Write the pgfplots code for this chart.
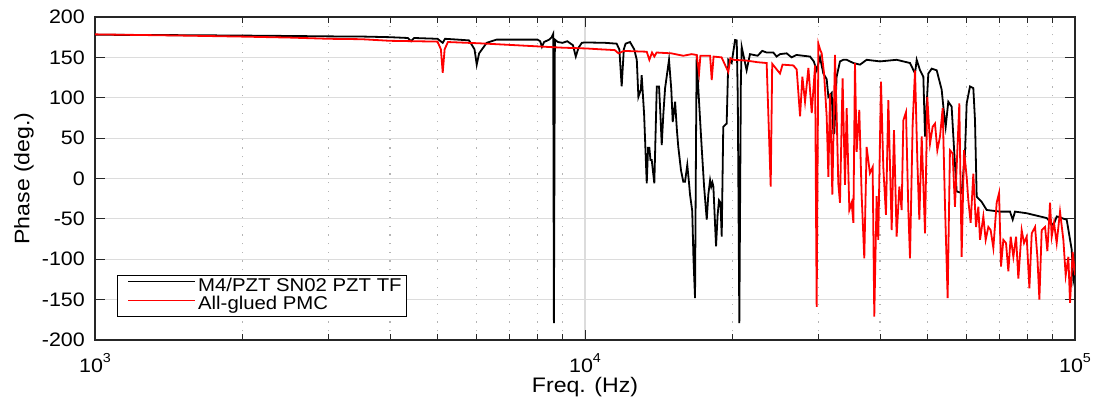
\documentclass[border=0pt]{standalone}
\usepackage{fontspec}
\setmainfont{Liberation Sans}[FakeStretch=1.1]
\usepackage{pgfplots}
\pgfplotsset{compat=1.18}
\usepackage{pgfplotstable}

\pgfplotstableread{
f deg
1000 178
1500 177.5
2000 177
2500 176.5
3000 176
3500 175.8
4000 175
4350 174
4416 170
4480 174
5000 173
5124 168
5180 173
5500 172
5800 171
5950 160
6012 141
6080 155
6300 168
6600 172
7000 172
7500 172
8000 172
8100 170
8167 163
8250 169
8450 172
8550 175
8610 179
8640 -179
8680 172
8800 169
9000 168
9200 170
9450 165
9575 151
9700 162
9850 168
10000 168.5
11000 168
11600 167
11750 160
11880 114
12000 160
12100 167
12355 169
12600 160
12754 147
12850 101
13000 110
13050 128
13200 80
13365 -6
13450 38
13530 38
13600 23
13680 23
13850 -6
14010 114
14160 114
14250 80
14340 41.5
14450 80
14570 112
14840 147
15000 110
15100 70
15270 95
15400 60
15500 39.4
15700 10
15870 -4
16000 -4
16170 16.7
16300 -5
16380 -20
16550 -40
16650 -100
16770 -148
16850 50
16900 153
17000 120
17090 95
17300 39
17500 -10
17720 -51
17850 -20
18000 -2
18100 -10
18200 -5
18280 -10
18510 -84
18650 -45
18770 -27
18900 -30
19010 -72
19150 64
19460 68
19610 147
19920 143
20240 171.5
20400 171
20500 100
20650 -179
20800 120
20880 163
21100 150
21370 134
21710 154
22500 152
23000 158
23480 156
24230 156
24600 151
25000 154
25790 155
26400 150
27000 153
28790 151
29300 145
29700 134
30170 150
30650 130
31130 123
31380 101
31870 106
32120 56
32270 56
32620 126
33140 145
33660 147
34200 147
35290 143
36410 141
37560 147
39990 145
43250 147
46050 143
47150 130
47520 147
48270 134
49030 126
49420 52
50190 130
50990 136
52200 134
53440 110
53860 89
54450 64
55130 95
56000 89
56710 31
57340 -16
58700 -18
59630 31
60100 93
61050 114
62010 112
62500 72
63000 -22.5
64500 -29
66030 -39
70300 -41
73670 -41
74610 -51
75430 -41
79670 -43
87550 -49
90340 -58
91770 -47
96160 -51
98450 -88
99220 -126
100000 -115
}\blacktf

\pgfplotstableread{
f deg
1000 178.5
1500 177
2000 175.7
2500 174.5
3000 173
3500 172.5
4000 170.5
4500 170
5000 169.5
5080 160
5124 131
5170 160
5250 169
6100 167.4
7000 165.5
8354 163
9000 162
10080 161
10730 160
11500 159
11700 155
12000 158
13365 157
13530 147
13700 156
13850 151
14000 156
15000 155
15870 152
16500 154
16900 153
17090 130
17200 152
18000 152
18140 122
18300 151
19000 150
19610 132
19800 149
20070 147
21370 146
22500 144
23480 143
23930 -10
24100 142
25000 130
25300 141
26620 140
27040 135
27470 77
27770 126
28120 95
28570 137
29020 81
29480 140
29700 -159
29940 167
30170 160
30410 155
30750 130
31130 77
31380 2
31620 105
31970 -20
32370 153
32620 81
32880 -6
33140 -30
33550 124
33930 -8
34200 87
34630 -39
35010 -30
35290 -55
35560 143
35840 33
36290 85
36690 -20
37150 -99
37560 39
38150 6.5
38640 14
38940 -171
39370 -22
39680 -76
40180 120
40620 14
41130 -45
41590 97
42250 -64
42710 60
43250 -72
43800 -10
44280 -39
44630 72
45190 82
45690 -39
46050 -99
46630 68
47150 134
47660 23
48110 -51
48650 52
49420 -68
49950 101
50590 43
51220 64
51790 68
52360 35
53020 52
53690 87
54280 -33
54960 -148
55560 35
56260 31
56880 -35
57340 14
58060 93
58700 -97
59350 35
60100 2
60570 -27
61240 -55
62010 6
62800 -60
63490 -35
63990 -76
65000 -47
65720 -76
66550 -60
67280 -64
68130 -86
69210 -30
69980 -18
70630 -109
71410 -76
72310 -80
73110 -115
73920 -72
74850 -97
75800 -72
76630 -124
77840 -64
78700 -80
79700 -72
80700 -136
81590 -68
82880 -60
83790 -97
84580 -150
85500 -64
86870 -60
87810 -90
88920 -30
89620 -72
90610 -55
91740 -80
93190 -41
94670 -76
95710 -120
96920 -97
97680 -154
98900 -91
100000 -120
}\redpmc

\definecolor{gridmaj}{HTML}{DCDCDC}
\definecolor{gridmin}{HTML}{B4B4B4}
\definecolor{axcol}{HTML}{262626}

\begin{document}
\begin{tikzpicture}
\useasboundingbox (-95pt,-66pt) rectangle (1000pt,340pt);
\begin{axis}[
  at={(0pt,0pt)}, anchor=south west,
  scale only axis, width=980pt, height=323pt,
  xmode=log, xmin=1000, xmax=100000,
  ymin=-200, ymax=200,
  ytick={-200,-150,...,200},
  xtick={1000,10000,100000},
  xticklabels={10\raisebox{10pt}{\fontsize{13}{13}\selectfont 3},
               10\raisebox{10pt}{\fontsize{13}{13}\selectfont 4},
               10\raisebox{10pt}{\fontsize{13}{13}\selectfont 5}},
  /pgf/number format/assume math mode=true,
  tick pos=both, tick align=inside,
  major tick length=10pt, minor tick length=6pt,
  every tick/.style={axcol, line width=0.9pt},
  axis line style={axcol, line width=1.2pt},
  grid=major, xminorgrids=true,
  major grid style={gridmaj, line width=1.1pt},
  minor grid style={gridmin, line width=1.1pt, dash pattern=on 1.2pt off 7.5pt},
  yticklabel style={font=\fontsize{19.5}{20}\selectfont, anchor=east, inner sep=0pt, xshift=-10pt},
  xticklabel style={font=\fontsize{19.5}{20}\selectfont, anchor=base, inner sep=0pt, yshift=-33pt},
  xlabel={Freq. (Hz)},
  ylabel={Phase (deg.)},
  xlabel style={font=\fontsize{21}{22}\selectfont, at={(axis description cs:0.5,-0.164)}, anchor=base, inner sep=0pt},
  ylabel style={font=\fontsize{21}{22}\selectfont, at={(axis description cs:-0.0724,0.5)}, anchor=center, rotate=0},
  legend style={at={(axis description cs:0.02245,0.0712)}, anchor=south west,
    draw=black, line width=0.9pt, fill=white, inner xsep=3pt, inner ysep=2pt,
    font=\fontsize{18.5}{19}\selectfont, row sep=0pt,
    nodes={inner xsep=2pt, inner ysep=0.5pt, text height=13pt, text depth=4.5pt}},
  legend cell align=left,
  legend image code/.code={\path[draw=none, fill=none] (0pt,5pt) -- (1pt,5pt); \draw[#1, line width=1.3pt] (8pt,5pt) -- (75pt,5pt);},
]
\addplot[draw=black, line width=1.8pt] table[x=f, y=deg] {\blacktf};
\addlegendentry{M4/PZT SN02 PZT TF}
\addplot[draw=red, line width=1.8pt] table[x=f, y=deg] {\redpmc};
\addlegendentry{All-glued PMC}
\end{axis}
\end{tikzpicture}
\end{document}
